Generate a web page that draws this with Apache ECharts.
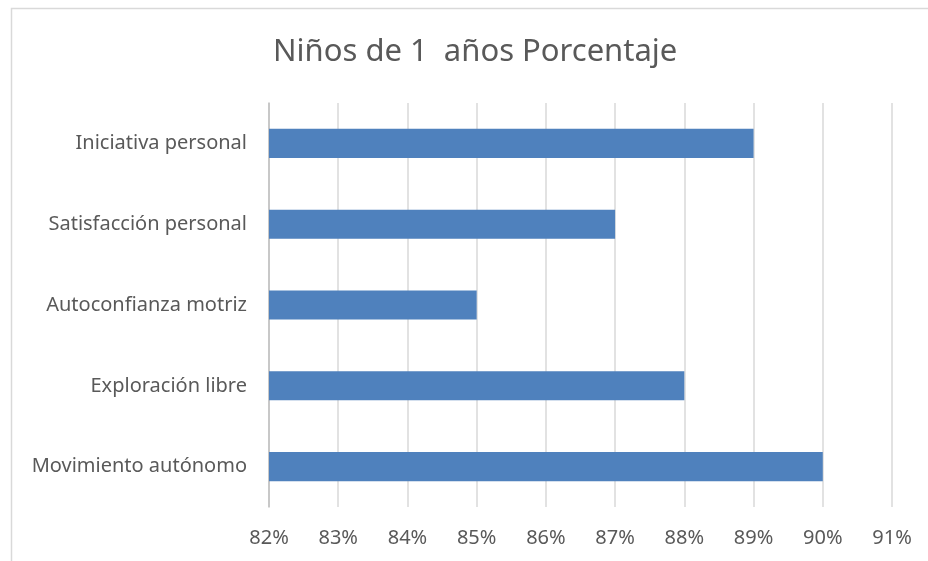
<!DOCTYPE html>
<html>
<head>
<meta charset="utf-8">
<script src="https://cdn.jsdelivr.net/npm/echarts@6/dist/echarts.min.js"></script>
<style>
  html, body { margin: 0; padding: 0; background: #fff; }
  #chart { width: 928px; height: 561px; }
</style>
</head>
<body>
<div id="chart"></div>
<script>
// datos (de arriba hacia abajo)
const categorias = ['Iniciativa personal', 'Satisfacción personal', 'Autoconfianza motriz', 'Exploración libre', 'Movimiento autónomo']
const porcentajes = [89, 87, 85, 88, 90]
const ejeMin = 82
const ejeMax = 91

const chart = echarts.init(document.getElementById('chart'))
const fuente = '"Noto Sans", "Open Sans", sans-serif'

chart.setOption({
  animation: false,
  title: {
    text: 'Niños de 1  años Porcentaje',
    left: 268,
    top: 32,
    textStyle: { fontFamily: fuente, fontSize: 31, fontWeight: 'normal', color: '#595959' }
  },
  graphic: [{
    type: 'rect',
    shape: { x: 11.5, y: 8.5, width: 940, height: 580 },
    style: { fill: 'none', stroke: '#d9d9d9', lineWidth: 1.5 },
    silent: true
  }],
  grid: { left: 269, right: 36, top: 103, bottom: 54 },
  xAxis: {
    type: 'value',
    min: ejeMin,
    max: ejeMax,
    interval: 1,
    axisLine: { show: false },
    axisTick: { show: false },
    axisLabel: { formatter: '{value}%', fontFamily: fuente, fontSize: 20, color: '#595959', margin: 21 },
    splitLine: { lineStyle: { color: '#d9d9d9', width: 1.5 } }
  },
  yAxis: {
    type: 'category',
    data: categorias,
    inverse: true,
    axisLine: { lineStyle: { color: '#bfbfbf', width: 1.5 } },
    axisTick: { show: false },
    axisLabel: { fontFamily: fuente, fontSize: 20, color: '#595959', margin: 22 }
  },
  series: [{
    type: 'bar',
    data: porcentajes,
    barCategoryGap: '64%',
    itemStyle: { color: '#4f81bd' },
    clip: true
  }]
})
</script>
</body>
</html>
